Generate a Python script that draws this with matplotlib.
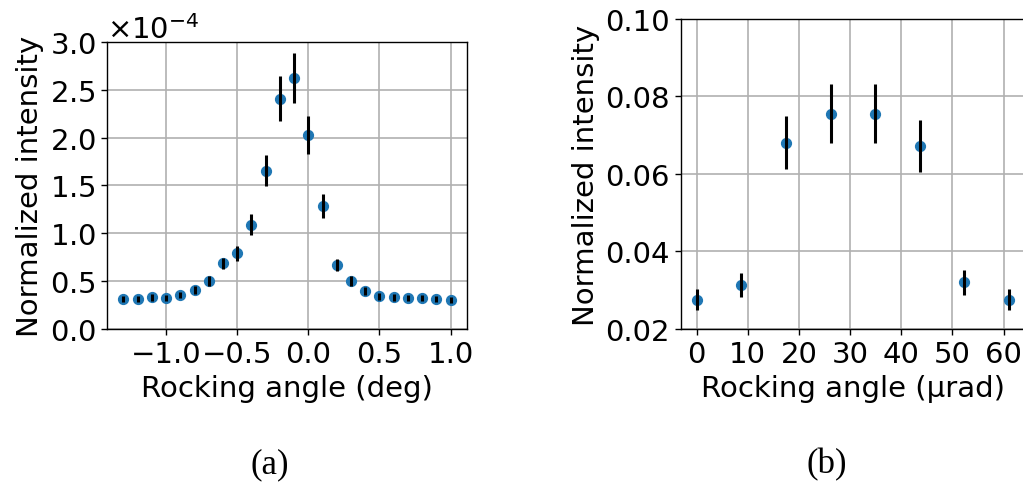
import numpy as np
import matplotlib
matplotlib.use('Agg')
import matplotlib.pyplot as plt

# (a) rocking curve in degrees, intensity in units of 1e-4
angle_deg = [-1.3, -1.2, -1.1, -1.0, -0.9, -0.8, -0.7, -0.6, -0.5, -0.4, -0.3, -0.2,
             -0.1, 0.0, 0.1, 0.2, 0.3, 0.4, 0.5, 0.6, 0.7, 0.8, 0.9, 1.0]
inten_a = [0.313, 0.310, 0.330, 0.324, 0.355, 0.410, 0.500, 0.685, 0.793, 1.089, 1.653, 2.408,
           2.623, 2.025, 1.284, 0.672, 0.500, 0.400, 0.341, 0.330, 0.327, 0.324, 0.313, 0.306]
err_a = [0.031, 0.031, 0.033, 0.032, 0.036, 0.041, 0.050, 0.060, 0.078, 0.110, 0.162, 0.237,
         0.257, 0.200, 0.127, 0.064, 0.050, 0.040, 0.034, 0.033, 0.033, 0.032, 0.031, 0.031]

# (b) rocking curve in microradians
angle_urad = [0.0, 8.73, 17.45, 26.18, 34.91, 43.63, 52.36, 61.09]
inten_b = [0.0275, 0.0313, 0.0681, 0.0756, 0.0756, 0.0672, 0.0320, 0.0275]
err_b = [0.0027, 0.0031, 0.0068, 0.0075, 0.0075, 0.0067, 0.0032, 0.0027]

plt.rcParams['font.family'] = ['DejaVu Sans']
plt.rcParams['font.size'] = 21
plt.rcParams['axes.linewidth'] = 1.0

fig = plt.figure(figsize=(10.23, 4.85), dpi=100)

ax1 = fig.add_axes([0.1046, 0.3196, 0.3519, 0.5918])
ya = np.array(inten_a) * 1e-4
ea = np.array(err_a) * 1e-4
ax1.scatter(angle_deg, ya, s=50, color='C0', zorder=2)
ax1.errorbar(angle_deg, ya, yerr=ea, fmt='none', ecolor='k', elinewidth=2.2, zorder=3)
ax1.set_ylim(0, 3e-4)
ax1.set_yticks(np.arange(0, 3.01e-4, 0.5e-4))
ax1.set_xticks([-1.0, -0.5, 0.0, 0.5, 1.0])
ax1.ticklabel_format(axis='y', style='sci', scilimits=(0, 0), useMathText=True)
ax1.set_xlabel('Rocking angle (deg)')
ax1.set_ylabel('Normalized intensity')
ax1.grid(True, color='#b0b0b0', linewidth=1.2)

ax2 = fig.add_axes([0.6657, 0.3196, 0.336, 0.6392])
ax2.scatter(angle_urad, inten_b, s=50, color='C0', zorder=2)
ax2.errorbar(angle_urad, inten_b, yerr=err_b, fmt='none', ecolor='k', elinewidth=2.2, zorder=3)
ax2.set_ylim(0.02, 0.10)
ax2.set_yticks([0.02, 0.04, 0.06, 0.08, 0.10])
ax2.set_xticks([0, 10, 20, 30, 40, 50, 60])
ax2.set_xlabel('Rocking angle (\u00b5rad)')
ax2.set_ylabel('Normalized intensity')
ax2.grid(True, color='#b0b0b0', linewidth=1.2)

for ax in (ax1, ax2):
    ax.set_axisbelow(True)
    ax.tick_params(length=4.5, width=1.0)

fig.text(0.264, 0.025, '(a)', family='Liberation Serif', fontsize=25, ha='center')
fig.text(0.808, 0.025, '(b)', family='Liberation Serif', fontsize=25, ha='center')

fig.savefig('out.png', dpi=100)
